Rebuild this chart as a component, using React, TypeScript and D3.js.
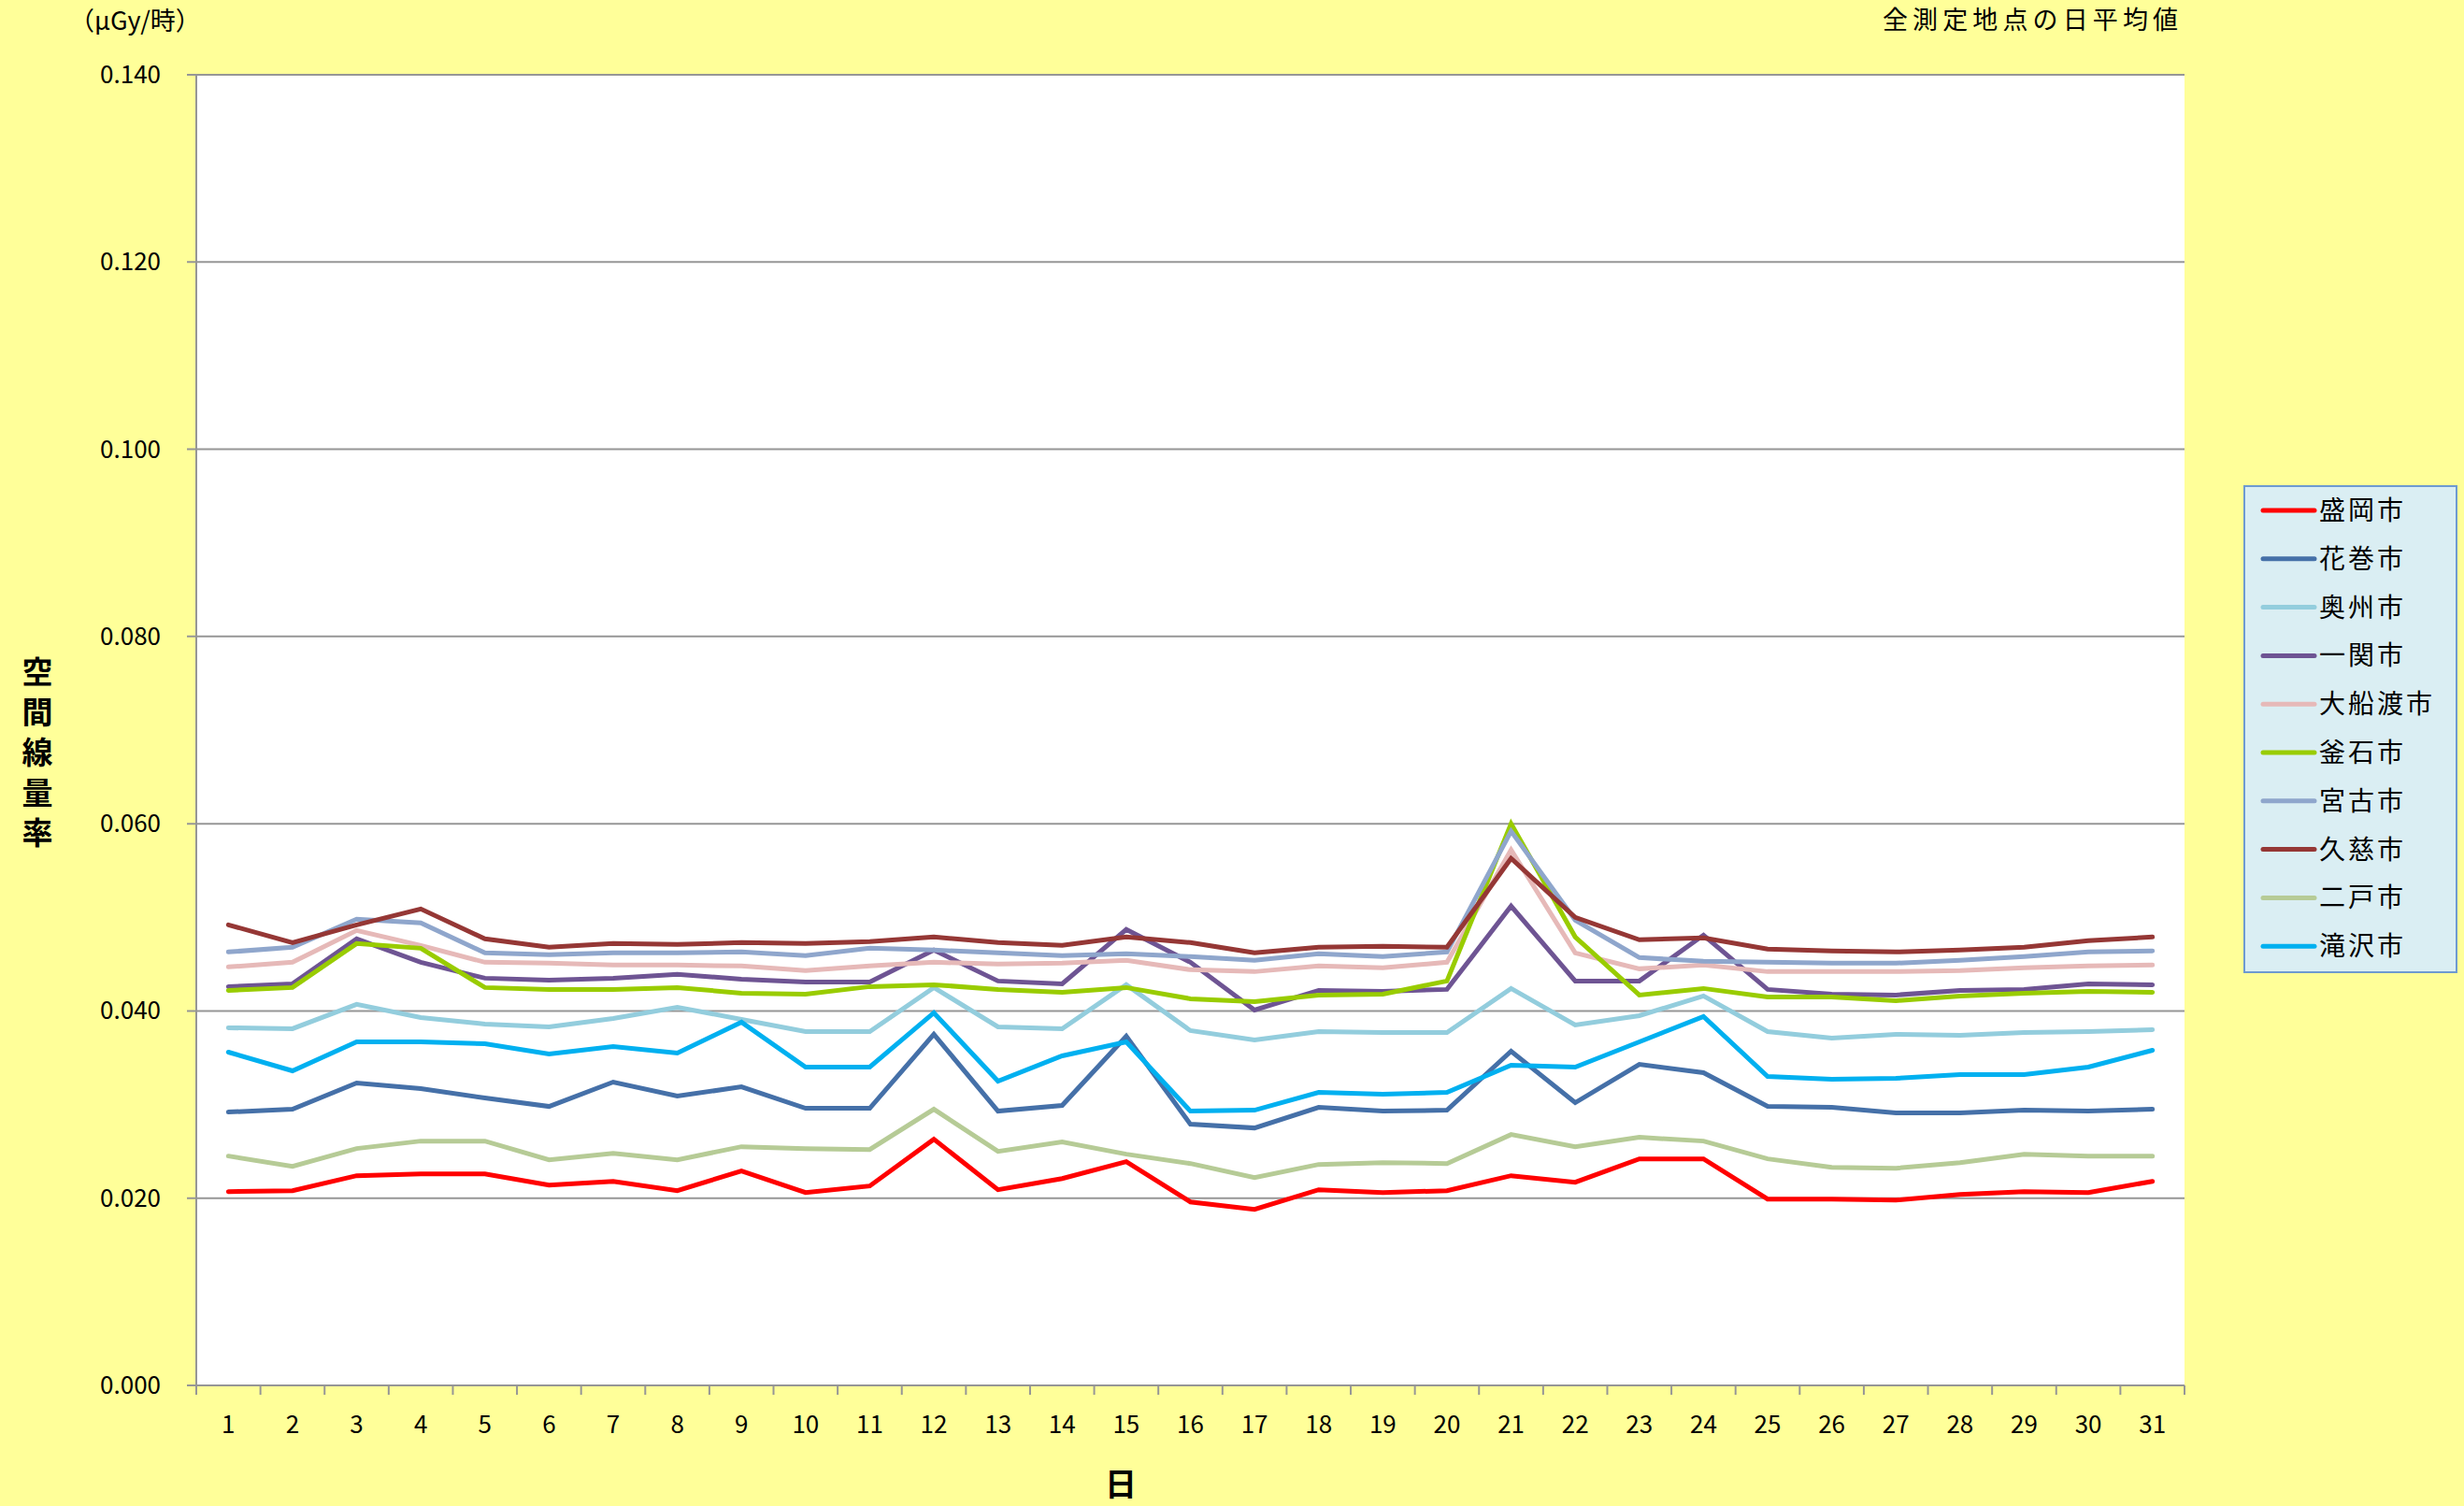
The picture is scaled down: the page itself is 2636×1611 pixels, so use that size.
import React, { useEffect, useRef } from 'react';
import * as d3 from 'd3';

const days = [1, 2, 3, 4, 5, 6, 7, 8, 9, 10, 11, 12, 13, 14, 15, 16, 17, 18, 19, 20, 21, 22, 23, 24, 25, 26, 27, 28, 29, 30, 31];
const yTicks = [0, 0.02, 0.04, 0.06, 0.08, 0.1, 0.12, 0.14];

const cities = ['盛岡市', '花巻市', '奥州市', '一関市', '大船渡市', '釜石市', '宮古市', '久慈市', '二戸市', '滝沢市'];
const colors = ['#FF0000', '#4570A8', '#93CDDD', '#6E5493', '#E6B9B8', '#99CC00', '#8FA6CC', '#953735', '#B6CB96', '#00B0F0'];

const morioka = [0.0207, 0.0208, 0.0224, 0.0226, 0.0226, 0.0214, 0.0218, 0.0208, 0.0229, 0.0206, 0.0213, 0.0263, 0.0209, 0.0221, 0.0239, 0.0196, 0.0188, 0.0209, 0.0206, 0.0208, 0.0224, 0.0217, 0.0242, 0.0242, 0.0199, 0.0199, 0.0198, 0.0204, 0.0207, 0.0206, 0.0218];
const hanamaki = [0.0292, 0.0295, 0.0323, 0.0317, 0.0307, 0.0298, 0.0324, 0.0309, 0.0319, 0.0296, 0.0296, 0.0375, 0.0293, 0.0299, 0.0373, 0.0279, 0.0275, 0.0297, 0.0293, 0.0294, 0.0357, 0.0302, 0.0343, 0.0334, 0.0298, 0.0297, 0.0291, 0.0291, 0.0294, 0.0293, 0.0295];
const oshu = [0.0382, 0.0381, 0.0407, 0.0393, 0.0386, 0.0383, 0.0392, 0.0404, 0.0391, 0.0378, 0.0378, 0.0425, 0.0383, 0.0381, 0.0428, 0.0379, 0.0369, 0.0378, 0.0377, 0.0377, 0.0424, 0.0385, 0.0395, 0.0416, 0.0378, 0.0371, 0.0375, 0.0374, 0.0377, 0.0378, 0.0380];
const ichinoseki = [0.0426, 0.0429, 0.0477, 0.0452, 0.0435, 0.0433, 0.0435, 0.0439, 0.0434, 0.0431, 0.0431, 0.0465, 0.0432, 0.0429, 0.0487, 0.0452, 0.0401, 0.0422, 0.0421, 0.0423, 0.0512, 0.0432, 0.0432, 0.0481, 0.0423, 0.0418, 0.0417, 0.0422, 0.0423, 0.0429, 0.0428];
const ofunato = [0.0447, 0.0452, 0.0486, 0.0470, 0.0452, 0.0451, 0.0449, 0.0449, 0.0448, 0.0443, 0.0448, 0.0452, 0.0450, 0.0451, 0.0454, 0.0444, 0.0442, 0.0448, 0.0446, 0.0452, 0.0572, 0.0462, 0.0445, 0.0449, 0.0442, 0.0442, 0.0442, 0.0443, 0.0446, 0.0448, 0.0449];
const kamaishi = [0.0422, 0.0425, 0.0472, 0.0467, 0.0425, 0.0423, 0.0423, 0.0425, 0.0419, 0.0418, 0.0426, 0.0428, 0.0423, 0.0420, 0.0425, 0.0413, 0.0410, 0.0417, 0.0418, 0.0432, 0.0600, 0.0479, 0.0417, 0.0424, 0.0415, 0.0415, 0.0411, 0.0416, 0.0419, 0.0421, 0.0420];
const miyako = [0.0463, 0.0468, 0.0498, 0.0494, 0.0462, 0.0460, 0.0462, 0.0462, 0.0463, 0.0459, 0.0467, 0.0465, 0.0462, 0.0459, 0.0461, 0.0458, 0.0454, 0.0461, 0.0458, 0.0463, 0.0592, 0.0497, 0.0457, 0.0453, 0.0452, 0.0451, 0.0451, 0.0454, 0.0458, 0.0463, 0.0464];
const kuji = [0.0492, 0.0473, 0.0492, 0.0509, 0.0477, 0.0468, 0.0472, 0.0471, 0.0473, 0.0472, 0.0474, 0.0479, 0.0473, 0.0470, 0.0479, 0.0473, 0.0462, 0.0468, 0.0469, 0.0468, 0.0563, 0.0500, 0.0476, 0.0478, 0.0466, 0.0464, 0.0463, 0.0465, 0.0468, 0.0475, 0.0479];
const ninohe = [0.0245, 0.0234, 0.0253, 0.0261, 0.0261, 0.0241, 0.0248, 0.0241, 0.0255, 0.0253, 0.0252, 0.0295, 0.0250, 0.0260, 0.0247, 0.0237, 0.0222, 0.0236, 0.0238, 0.0237, 0.0268, 0.0255, 0.0265, 0.0261, 0.0242, 0.0233, 0.0232, 0.0238, 0.0247, 0.0245, 0.0245];
const takizawa = [0.0356, 0.0336, 0.0367, 0.0367, 0.0365, 0.0354, 0.0362, 0.0355, 0.0388, 0.0340, 0.0340, 0.0398, 0.0325, 0.0352, 0.0367, 0.0293, 0.0294, 0.0313, 0.0311, 0.0313, 0.0342, 0.0340, 0.0367, 0.0394, 0.0330, 0.0327, 0.0328, 0.0332, 0.0332, 0.0340, 0.0358];

const seriesValues = [morioka, hanamaki, oshu, ichinoseki, ofunato, kamaishi, miyako, kuji, ninohe, takizawa];

const FONT = '"Noto Sans CJK JP", "Noto Sans", sans-serif';

export default function App(): JSX.Element {
  const svgRef = useRef<SVGSVGElement>(null);

  useEffect(() => {
    const svgEle = svgRef.current;
    if (svgEle == null) {
      return;
    }
    const W = 2636;
    const H = 1611;
    const plot = { left: 210, right: 2337, top: 80, bottom: 1482 };

    const svg = d3.select(svgEle);
    svg.selectAll('*').remove();

    svg.append('rect').attr('width', W).attr('height', H).attr('fill', '#FFFF99');
    svg
      .append('rect')
      .attr('x', plot.left)
      .attr('y', plot.top)
      .attr('width', plot.right - plot.left)
      .attr('height', plot.bottom - plot.top)
      .attr('fill', '#FFFFFF');

    const x = d3
      .scaleBand<number>()
      .domain(days)
      .range([plot.left, plot.right])
      .padding(0);
    const y = d3.scaleLinear().domain([0, 0.14]).range([plot.bottom, plot.top]);
    const cx = (d: number) => (x(d) || 0) + x.bandwidth() / 2;

    // grid lines
    svg
      .append('g')
      .selectAll('line')
      .data(yTicks)
      .enter()
      .append('line')
      .attr('x1', plot.left - 10)
      .attr('x2', plot.right)
      .attr('y1', (d) => y(d))
      .attr('y2', (d) => y(d))
      .attr('stroke', '#969696')
      .attr('stroke-width', 2);

    // y axis line
    svg
      .append('line')
      .attr('x1', plot.left)
      .attr('x2', plot.left)
      .attr('y1', plot.top)
      .attr('y2', plot.bottom + 10)
      .attr('stroke', '#969696')
      .attr('stroke-width', 2);

    // x ticks at band boundaries
    const bounds = days.map((d) => x(d) || 0).concat([plot.right]);
    svg
      .append('g')
      .selectAll('line')
      .data(bounds)
      .enter()
      .append('line')
      .attr('x1', (d) => d)
      .attr('x2', (d) => d)
      .attr('y1', plot.bottom)
      .attr('y2', plot.bottom + 10)
      .attr('stroke', '#969696')
      .attr('stroke-width', 2);

    // y tick labels
    svg
      .append('g')
      .selectAll('text')
      .data(yTicks)
      .enter()
      .append('text')
      .attr('x', 172)
      .attr('y', (d) => y(d) + 9)
      .attr('text-anchor', 'end')
      .attr('font-family', FONT)
      .attr('font-size', 26)
      .attr('fill', '#000')
      .text((d) => d3.format('.3f')(d));

    // x tick labels
    svg
      .append('g')
      .selectAll('text')
      .data(days)
      .enter()
      .append('text')
      .attr('x', (d) => cx(d))
      .attr('y', 1533)
      .attr('text-anchor', 'middle')
      .attr('font-family', FONT)
      .attr('font-size', 26)
      .attr('fill', '#000')
      .text((d) => String(d));

    // lines
    const line = d3
      .line<number>()
      .x((_, i) => cx(days[i]))
      .y((d) => y(d));
    svg
      .append('g')
      .selectAll('path')
      .data(seriesValues)
      .enter()
      .append('path')
      .attr('d', (d) => line(d))
      .attr('fill', 'none')
      .attr('stroke', (_, i) => colors[i])
      .attr('stroke-width', 5)
      .attr('stroke-linecap', 'round');

    // titles
    svg
      .append('text')
      .attr('x', 74)
      .attr('y', 32)
      .attr('font-family', FONT)
      .attr('font-size', 27)
      .text('（μGy/時）');
    svg
      .append('text')
      .attr('x', 2330)
      .attr('y', 31)
      .attr('text-anchor', 'end')
      .attr('font-family', FONT)
      .attr('font-size', 27)
      .attr('textLength', 316)
      .text('全測定地点の日平均値');
    svg
      .append('text')
      .attr('x', 1199)
      .attr('y', 1600)
      .attr('text-anchor', 'middle')
      .attr('font-family', FONT)
      .attr('font-size', 34)
      .attr('font-weight', 'bold')
      .text('日');
    const yTitle = '空間線量率'.split('');
    svg
      .append('g')
      .selectAll('text')
      .data(yTitle)
      .enter()
      .append('text')
      .attr('x', 40)
      .attr('y', (_, i) => 731 + i * 43)
      .attr('text-anchor', 'middle')
      .attr('font-family', FONT)
      .attr('font-size', 33)
      .attr('font-weight', 'bold')
      .text((d) => d);

    // legend
    const lg = svg.append('g');
    lg.append('rect')
      .attr('x', 2401)
      .attr('y', 520)
      .attr('width', 227)
      .attr('height', 520)
      .attr('fill', '#DAEEF3')
      .attr('stroke', '#6E9AD0')
      .attr('stroke-width', 2);
    const items = lg
      .selectAll('g.item')
      .data(cities)
      .enter()
      .append('g')
      .attr('transform', (_, i) => `translate(0, ${546 + i * 51.8})`);
    items
      .append('line')
      .attr('x1', 2421)
      .attr('x2', 2476)
      .attr('stroke', (_, i) => colors[i])
      .attr('stroke-width', 5)
      .attr('stroke-linecap', 'round');
    items
      .append('text')
      .attr('x', 2481)
      .attr('y', 10)
      .attr('font-family', FONT)
      .attr('font-size', 28)
      .attr('letter-spacing', 3)
      .attr('fill', '#000')
      .text((d) => d);
  });

  return (
    <div style={{ position: 'fixed', left: 0, top: 0, width: 2636, height: 1611 }}>
      <svg ref={svgRef} width={2636} height={1611} style={{ display: 'block' }} />
    </div>
  );
}
